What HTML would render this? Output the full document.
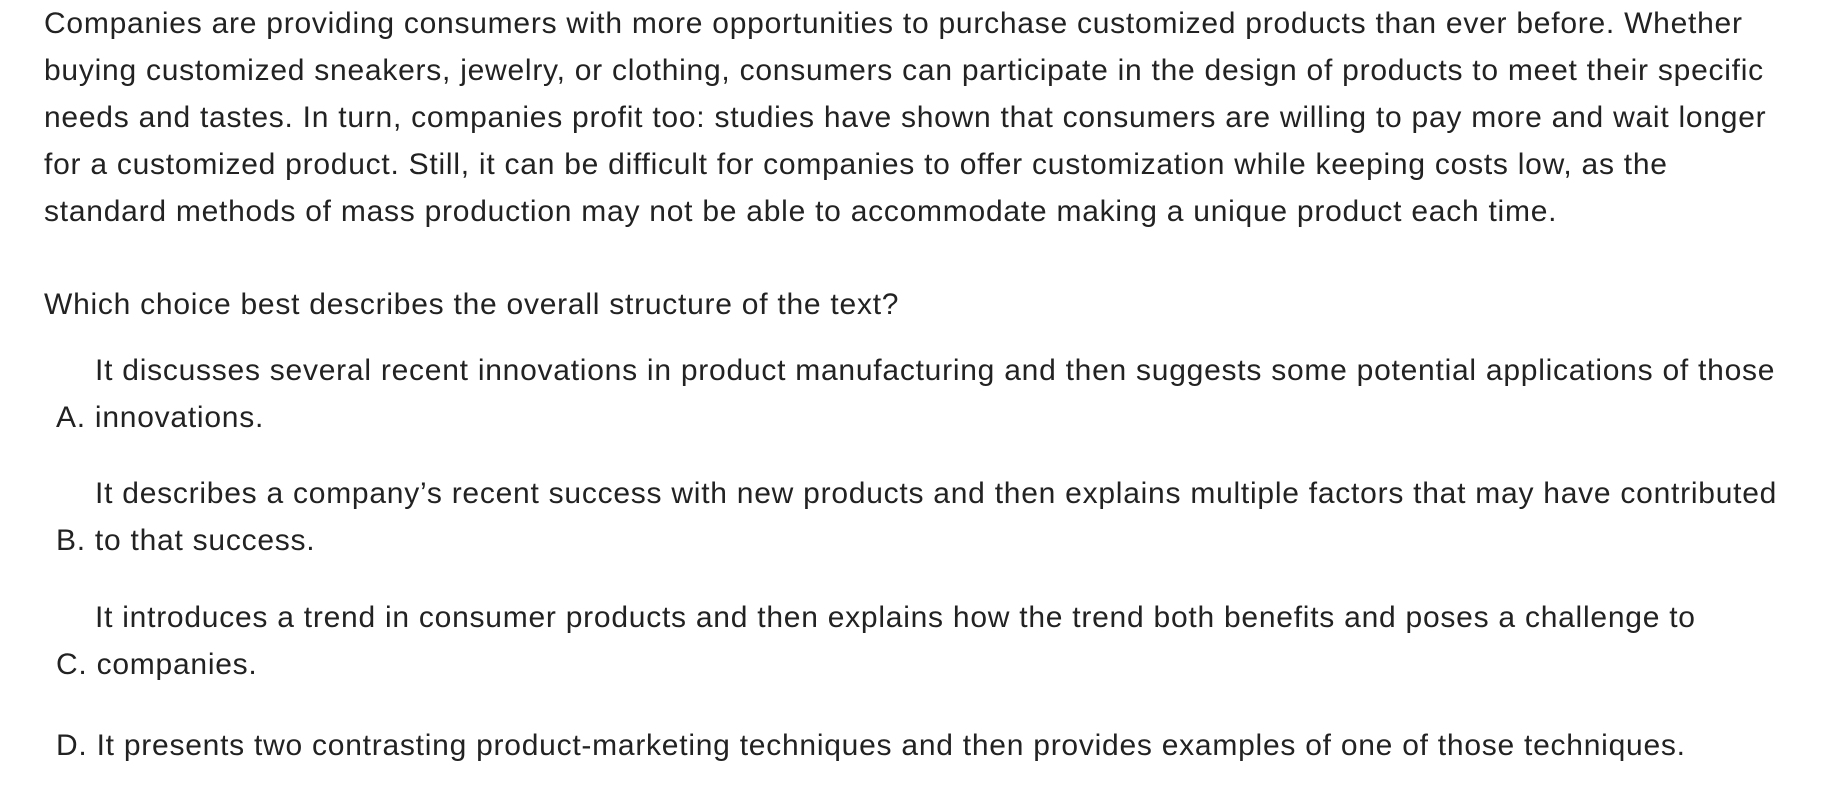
<!DOCTYPE html>
<html><head><meta charset="utf-8"><style>
html,body{margin:0;padding:0;background:#fff;width:1836px;height:792px;overflow:hidden}
body{position:relative;font-family:"Liberation Sans",Arial,sans-serif;font-size:30px;letter-spacing:0.75px;color:#222;}
.l{position:absolute;white-space:nowrap;line-height:47px;height:47px}
</style></head><body>
<div>
<div class="l" style="left:44px;top:0px">Companies are providing consumers with more opportunities to purchase customized products than ever before. Whether</div>
<div class="l" style="left:44px;top:47px">buying customized sneakers, jewelry, or clothing, consumers can participate in the design of products to meet their specific</div>
<div class="l" style="left:44px;top:94px">needs and tastes. In turn, companies profit too: studies have shown that consumers are willing to pay more and wait longer</div>
<div class="l" style="left:44px;top:141px">for a customized product. Still, it can be difficult for companies to offer customization while keeping costs low, as the</div>
<div class="l" style="left:44px;top:188px">standard methods of mass production may not be able to accommodate making a unique product each time.</div>
</div>
<div class="l" style="left:44px;top:281px">Which choice best describes the overall structure of the text?</div>
<div>
<div class="l" style="left:95px;top:347px">It discusses several recent innovations in product manufacturing and then suggests some potential applications of those</div>
<div class="l" style="left:56px;top:394px">A. innovations.</div>
</div>
<div>
<div class="l" style="left:95px;top:470px">It describes a company’s recent success with new products and then explains multiple factors that may have contributed</div>
<div class="l" style="left:56px;top:517px">B. to that success.</div>
</div>
<div>
<div class="l" style="left:95px;top:594px">It introduces a trend in consumer products and then explains how the trend both benefits and poses a challenge to</div>
<div class="l" style="left:56px;top:641px">C. companies.</div>
</div>
<div>
<div class="l" style="left:56px;top:722px">D. It presents two contrasting product-marketing techniques and then provides examples of one of those techniques.</div>
</div>
</body></html>
